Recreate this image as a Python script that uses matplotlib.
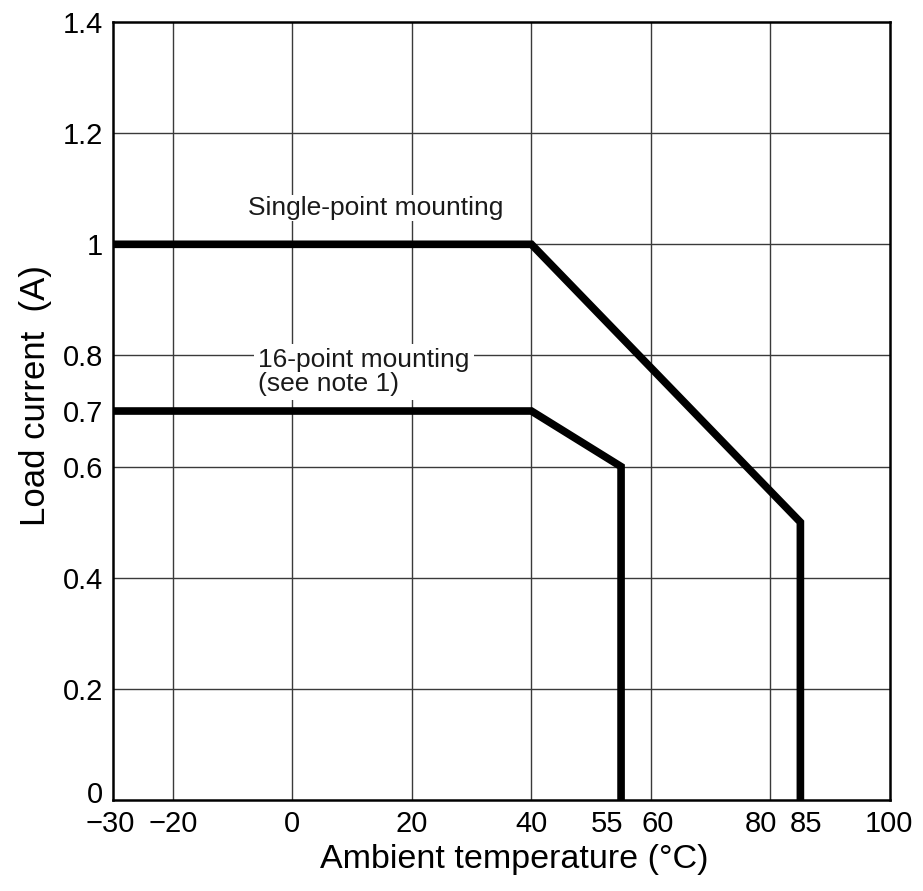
import matplotlib
matplotlib.use("Agg")
import matplotlib.pyplot as plt
from matplotlib.transforms import ScaledTranslation

plt.rcParams['font.family'] = ['Liberation Sans', 'DejaVu Sans']

# derating curves
SINGLE_T = [-30, 40, 85, 85]
SINGLE_I = [1.0, 1.0, 0.5, 0.0]
MULTI_T = [-30, 40, 55, 55]
MULTI_I = [0.7, 0.7, 0.6, 0.0]

X_TICKS = [-30, -20, 0, 20, 40, 55, 60, 80, 85, 100]
X_LABELS = ["\u221230", "\u221220", "0", "20", "40", "55", "60", "80", "85", "100"]
X_GRID = [-20, 0, 20, 40, 60, 80]
Y_TICKS = [0, 0.2, 0.4, 0.6, 0.7, 0.8, 1.0, 1.2, 1.4]
Y_LABELS = ["0", "0.2", "0.4", "0.6", "0.7", "0.8", "1", "1.2", "1.4"]
Y_GRID = [0.2, 0.4, 0.6, 0.8, 1.0, 1.2]

fig = plt.figure(figsize=(9.23, 8.91), dpi=100)
ax = fig.add_axes([0.1224, 0.1021, 0.8419, 0.8732])

for x in X_GRID:
    ax.axvline(x, color="#3a3a3a", lw=1.0, zorder=1)
for y in Y_GRID:
    ax.axhline(y, color="#3a3a3a", lw=1.0, zorder=1)

ax.plot(SINGLE_T, SINGLE_I, color="black", lw=5.5, solid_joinstyle="miter", zorder=3)
ax.plot(MULTI_T, MULTI_I, color="black", lw=5.5, solid_joinstyle="miter", zorder=3)

ax.text(14, 1.065, "Single-point mounting", fontsize=19, ha="center", va="center",
        color="#1a1a1a", bbox=dict(facecolor="white", edgecolor="none", pad=1), zorder=2)
ax.text(-5.7, 0.77, "16-point mounting\n(see note 1)", fontsize=19, ha="left", va="center",
        color="#1a1a1a", linespacing=1.0,
        bbox=dict(facecolor="white", edgecolor="none", pad=3), zorder=2)

ax.set_xlim(-30, 100)
ax.set_ylim(0, 1.4)
ax.set_xticks(X_TICKS)
ax.set_xticklabels(X_LABELS)
ax.set_yticks(Y_TICKS)
ax.set_yticklabels(Y_LABELS)
ax.tick_params(length=0, labelsize=21, pad=7)

# nudge crowded tick labels apart (points)
x_shift = {"55": -10, "60": 5, "80": -7, "85": 4, "\u221230": -2, "100": -1}
for lab in ax.get_xticklabels():
    dx = x_shift.get(lab.get_text(), 0)
    if dx:
        lab.set_transform(lab.get_transform() + ScaledTranslation(dx / 72, 0, fig.dpi_scale_trans))
for lab in ax.get_yticklabels():
    if lab.get_text() == "0":
        lab.set_transform(lab.get_transform() + ScaledTranslation(0, 6 / 72, fig.dpi_scale_trans))

for s in ax.spines.values():
    s.set_linewidth(1.8)
    s.set_zorder(4)

ax.set_xlabel("Ambient temperature (\u00b0C)", fontsize=24.5)
ax.set_ylabel("Load current  (A)", fontsize=25)
ax.xaxis.set_label_coords(0.516, -0.056)
ax.yaxis.set_label_coords(-0.079, 0.52)

fig.savefig("out.png", dpi=100)
